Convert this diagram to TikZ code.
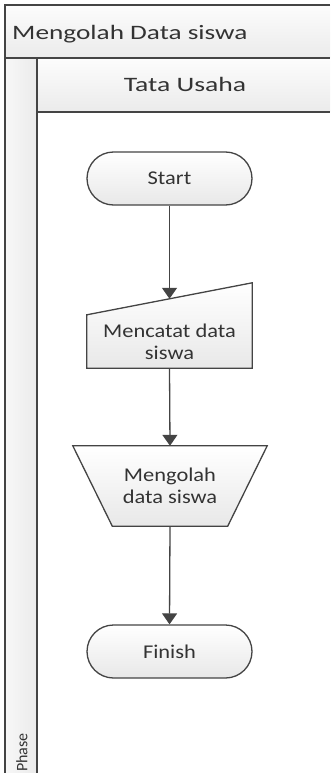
\documentclass[tikz,border=0pt]{standalone}
\usepackage{fontspec}
\usepackage{graphicx}
\setmainfont{Carlito}
\usetikzlibrary{arrows.meta,calc}
\definecolor{ln}{HTML}{444444}
\definecolor{tx}{HTML}{333333}
\newcommand\hstr[2]{\scalebox{#1}[1]{#2}}
\begin{document}
\begin{tikzpicture}[x=1pt,y=1pt,
  frameline/.style={draw=ln,line width=1.3pt},
  band/.style={top color=black!1,bottom color=black!8},
  headtext/.style={text=tx,font=\fontsize{20.5}{24}\selectfont,inner sep=0pt},
  nodetext/.style={text=tx,font=\fontsize{19.5}{21.7}\selectfont,align=center},
  shapefill/.style={top color=white,bottom color=black!9},
  shapeline/.style={draw=ln,line width=1.3pt},
  term/.style={shapefill,shapeline,nodetext,rounded corners=26.5pt,minimum width=165pt,minimum height=53pt,inner sep=0pt},
  hold/.style={nodetext,inner sep=0pt},
  arr/.style={draw=ln,line width=1.3pt,-{Triangle[width=15pt,length=11pt]}}]
\useasboundingbox (0,0) rectangle (330,-773);
% pool bands
\fill[band] (5,-5) rectangle (330,-58);
\fill[band] (37,-58) rectangle (330,-112);
\fill[left color=black!3,right color=black!8] (5,-58) rectangle (37,-773);
\draw[frameline] (330,-5) -- (5,-5) -- (5,-773);
\draw[frameline] (5,-58) -- (330,-58);
\draw[frameline] (37,-58) -- (37,-773);
\draw[frameline] (37,-112) -- (330,-112);
\node[headtext,anchor=base west] (pool) at (12,-39.3) {\hstr{1.33}{Mengolah Data siswa}};
\node[headtext,anchor=base] (lane) at (185,-91.7) {\hstr{1.35}{Tata Usaha}};
\node[text=tx,font=\fontsize{16}{18}\selectfont,rotate=90,inner sep=0pt] (phase) at (22,-752.5) {Phase};
% flow
\node[term] (start) at (169.5,-178.5) {\hstr{1.15}{Start}};
\node[hold,minimum width=165pt,minimum height=53pt] (mi) at (169.5,-341.5) {};
\fill[shapefill] (mi.north west) -- ($(mi.north east)+(0,32)$) -- (mi.south east) -- (mi.south west) -- cycle;
\draw[shapeline] (mi.north west) -- ($(mi.north east)+(0,32)$) -- (mi.south east) -- (mi.south west) -- cycle;
\node[hold] (mitext) at (mi) {\hstr{1.15}{Mencatat data}\\\hstr{1.15}{siswa}};
\coordinate (mitop) at ($(mi.north)+(0,16)$);
\node[hold,minimum width=194pt,minimum height=80pt] (mo) at (170,-486) {};
\fill[shapefill] (mo.north west) -- (mo.north east) -- ($(mo.south east)+(-39.5,0)$) -- ($(mo.south west)+(39.5,0)$) -- cycle;
\draw[shapeline] (mo.north west) -- (mo.north east) -- ($(mo.south east)+(-39.5,0)$) -- ($(mo.south west)+(39.5,0)$) -- cycle;
\node[hold] (motext) at (mo) {\hstr{1.15}{Mengolah}\\\hstr{1.15}{data siswa}};
\node[term] (finish) at (169.5,-651.5) {\hstr{1.15}{Finish}};
\draw[arr] (start.south) -- (mitop);
\draw[arr] (mi.south) -- (mo.north);
\draw[arr] (mo.south) -- (finish.north);
\end{tikzpicture}
\end{document}
